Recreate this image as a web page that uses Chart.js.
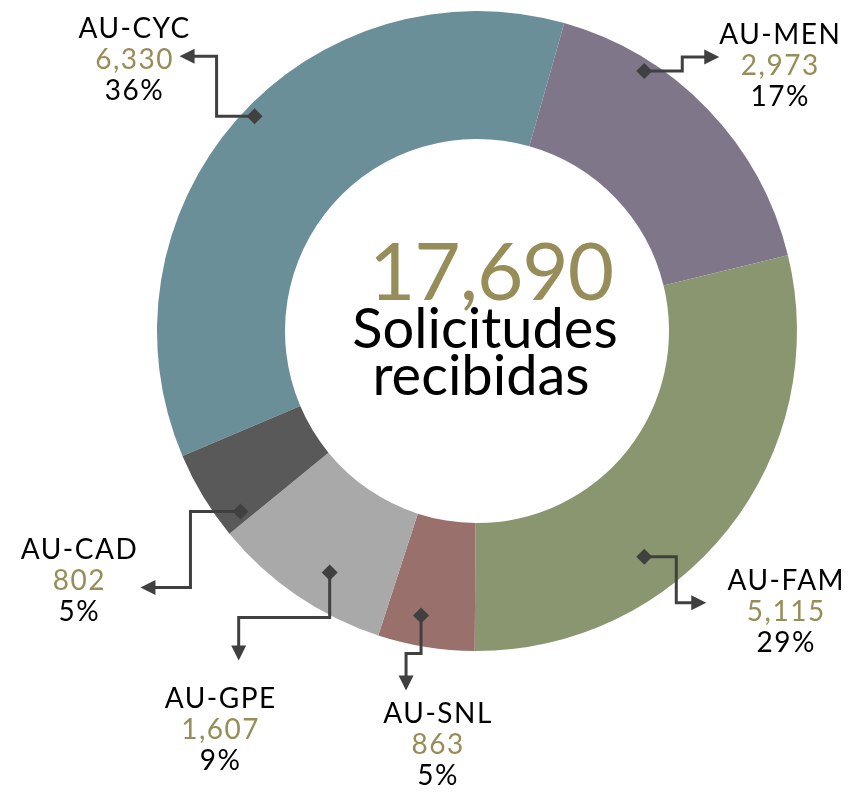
<!DOCTYPE html>
<html>
<head>
<meta charset="utf-8">
<script src="https://cdn.jsdelivr.net/npm/chart.js@4"></script>
<style>
  html, body { margin: 0; padding: 0; background: #fff; }
  #wrap { width: 856px; height: 792px; }
</style>
</head>
<body>
<div id="wrap"><canvas id="solicitudesChart" width="856" height="792"></canvas></div>
<script>
// Data
const categories = ['AU-CYC', 'AU-MEN', 'AU-FAM', 'AU-SNL', 'AU-GPE', 'AU-CAD'];
const solicitudes = [6330, 2973, 5115, 863, 1607, 802];
const sliceColors = ['#6a8f99', '#7f768a', '#8a9670', '#9a706c', '#a9a9a9', '#595959'];
const centerCaption = ['Solicitudes', 'recibidas'];

const total = solicitudes.reduce((a, b) => a + b, 0);
const OLIVE = '#968d58';
const LEADER = '#404040';
const FONT = 'Lato, "DejaVu Sans", sans-serif';

// Leader lines: anchor on the slice (fraction of its angle, fraction of outer radius),
// then elbow points relative to the anchor; the last point is the arrow tip.
// label: offset of the text block from the tip (x centre, first baseline)
const leaders = [
    { frac: 0.52, rad: 0.966, path: [[-38, 0], [-38, -60], [-75, -60]], label: [-45, -18] },
    { frac: 0.28, rad: 0.966, path: [[38, 0], [38, -14], [75, -14]], label: [61, -13] },
    { frac: 0.645, rad: 0.878, path: [[32, 0], [32, 46], [62, 46]], label: [80, -13] },
    { frac: 0.61, rad: 0.906, path: [[0, 38], [-15, 38], [-15, 75]], label: [32, 33] },
    { frac: 0.41, rad: 0.884, path: [[0, 45], [-91, 45], [-91, 88]], label: [-18, 48] },
    { frac: 0.12, rad: 0.93, path: [[-50, 0], [-50, 76], [-100, 76]], label: [-61, -29] }
];

function drawArrowHead(ctx, x0, y0, x1, y1) {
    const ang = Math.atan2(y1 - y0, x1 - x0);
    const len = 15, half = 7.5;
    ctx.beginPath();
    ctx.moveTo(x1, y1);
    ctx.lineTo(x1 - len * Math.cos(ang) - half * Math.sin(ang), y1 - len * Math.sin(ang) + half * Math.cos(ang));
    ctx.lineTo(x1 - len * Math.cos(ang) + half * Math.sin(ang), y1 - len * Math.sin(ang) - half * Math.cos(ang));
    ctx.closePath();
    ctx.fill();
}

const calloutPlugin = {
    id: 'callouts',
    afterDatasetsDraw(chart) {
        const ctx = chart.ctx;
        const meta = chart.getDatasetMeta(0);
        ctx.save();
        meta.data.forEach((arc, i) => {
            const cfg = leaders[i];
            const p = arc.getProps(['x', 'y', 'startAngle', 'endAngle', 'outerRadius'], true);
            const a = p.startAngle + (p.endAngle - p.startAngle) * cfg.frac;
            const ax = p.x + Math.cos(a) * p.outerRadius * cfg.rad;
            const ay = p.y + Math.sin(a) * p.outerRadius * cfg.rad;

            const pts = [[ax, ay]].concat(cfg.path.map(d => [ax + d[0], ay + d[1]]));
            const tip = pts[pts.length - 1];
            const prev = pts[pts.length - 2];
            const ang = Math.atan2(tip[1] - prev[1], tip[0] - prev[0]);

            ctx.strokeStyle = LEADER;
            ctx.fillStyle = LEADER;
            ctx.lineWidth = 3;
            ctx.lineJoin = 'miter';
            ctx.beginPath();
            ctx.moveTo(pts[0][0], pts[0][1]);
            for (let k = 1; k < pts.length - 1; k++) ctx.lineTo(pts[k][0], pts[k][1]);
            ctx.lineTo(tip[0] - 13 * Math.cos(ang), tip[1] - 13 * Math.sin(ang));
            ctx.stroke();
            drawArrowHead(ctx, prev[0], prev[1], tip[0], tip[1]);

            // diamond
            ctx.beginPath();
            ctx.moveTo(ax - 8, ay);
            ctx.lineTo(ax, ay - 8);
            ctx.lineTo(ax + 8, ay);
            ctx.lineTo(ax, ay + 8);
            ctx.closePath();
            ctx.fill();

            // label
            const lx = tip[0] + cfg.label[0];
            const ly = tip[1] + cfg.label[1];
            const pct = Math.round(solicitudes[i] / total * 100) + '%';
            ctx.textAlign = 'center';
            ctx.textBaseline = 'alphabetic';
            ctx.letterSpacing = '1.5px';
            ctx.font = '400 28px ' + FONT;
            ctx.fillStyle = '#000';
            ctx.fillText(categories[i], lx, ly);
            ctx.fillStyle = OLIVE;
            ctx.fillText(solicitudes[i].toLocaleString('en-US'), lx, ly + 31);
            ctx.fillStyle = '#000';
            ctx.fillText(pct, lx, ly + 62);
        });
        ctx.restore();
    },
    afterDraw(chart) {
        const ctx = chart.ctx;
        const area = chart.chartArea;
        const cx = (area.left + area.right) / 2;
        const cy = (area.top + area.bottom) / 2;
        ctx.save();
        ctx.textAlign = 'center';
        ctx.textBaseline = 'alphabetic';
        ctx.fillStyle = OLIVE;
        ctx.letterSpacing = '-1px';
        ctx.font = '400 80px ' + FONT;
        ctx.fillText(total.toLocaleString('en-US'), cx + 14, cy - 31);
        ctx.letterSpacing = '0px';
        ctx.fillStyle = '#000';
        ctx.font = '400 56px ' + FONT;
        ctx.fillText(centerCaption[0], cx + 8, cy + 17);
        ctx.fillText(centerCaption[1], cx + 4, cy + 64);
        ctx.restore();
    }
};

const ctx = document.getElementById('solicitudesChart').getContext('2d');
const solicitudesChart = new Chart(ctx, {
    type: 'doughnut',
    data: {
        labels: categories,
        datasets: [{
            data: solicitudes,
            backgroundColor: sliceColors,
            borderWidth: 0
        }]
    },
    options: {
        responsive: false,
        animation: false,
        rotation: -113,
        cutout: '60%',
        layout: {
            padding: { left: 157, right: 59, top: 11, bottom: 141 }
        },
        plugins: {
            legend: { display: false },
            tooltip: { enabled: false }
        }
    },
    plugins: [calloutPlugin]
});
</script>
</body>
</html>
